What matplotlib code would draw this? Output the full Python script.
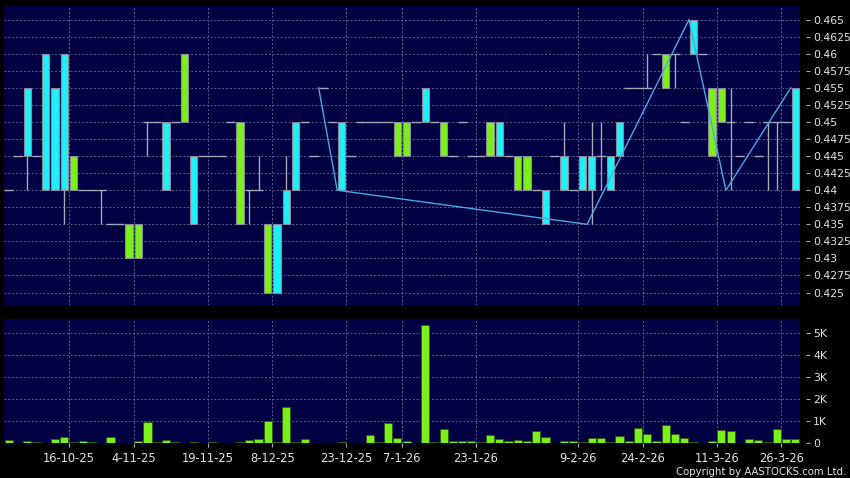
import numpy as np
import matplotlib.pyplot as plt
from matplotlib.ticker import FixedLocator, FuncFormatter

# ---------- data (one entry per trading slot) ----------
opens = [0.44, 0.445, 0.445, 0.445, 0.44, 0.44, 0.44, 0.445, 0.44, 0.44,
         0.44, 0.435, 0.435, 0.435, 0.435, 0.45, 0.45, 0.44, 0.45, 0.46,
         0.435, 0.445, 0.445, 0.445, 0.45, 0.45, 0.44, 0.44, 0.435, 0.425,
         0.435, 0.44, 0.45, 0.445, 0.455, 0.45, 0.44, 0.445, 0.45, 0.45,
         0.45, 0.45, 0.45, 0.45, 0.45, 0.45, 0.45, 0.45, 0.445, 0.45,
         0.445, 0.445, 0.45, 0.445, 0.445, 0.445, 0.445, 0.44, 0.435, 0.445,
         0.44, 0.44, 0.44, 0.44, 0.445, 0.44, 0.445, 0.455, 0.455, 0.455,
         0.46, 0.46, 0.46, 0.45, 0.46, 0.46, 0.455, 0.455, 0.45, 0.445,
         0.45, 0.445, 0.45, 0.45, 0.45, 0.44]
closes = [0.44, 0.445, 0.455, 0.445, 0.46, 0.455, 0.46, 0.44, 0.44, 0.44,
          0.44, 0.435, 0.435, 0.43, 0.43, 0.45, 0.45, 0.45, 0.45, 0.45,
          0.445, 0.445, 0.445, 0.445, 0.45, 0.435, 0.44, 0.44, 0.425, 0.435,
          0.44, 0.45, 0.45, 0.445, 0.455, 0.45, 0.45, 0.445, 0.45, 0.45,
          0.45, 0.45, 0.445, 0.445, 0.45, 0.455, 0.45, 0.445, 0.445, 0.45,
          0.445, 0.445, 0.445, 0.45, 0.445, 0.44, 0.44, 0.44, 0.44, 0.445,
          0.445, 0.44, 0.445, 0.445, 0.445, 0.445, 0.45, 0.455, 0.455, 0.455,
          0.46, 0.455, 0.46, 0.45, 0.465, 0.46, 0.445, 0.45, 0.45, 0.445,
          0.45, 0.445, 0.45, 0.45, 0.45, 0.455]
highs = [0.44, 0.445, 0.455, 0.445, 0.46, 0.455, 0.46, 0.445, 0.44, 0.44,
         0.44, 0.435, 0.435, 0.435, 0.435, 0.45, 0.45, 0.45, 0.45, 0.46,
         0.445, 0.445, 0.445, 0.445, 0.45, 0.45, 0.44, 0.445, 0.435, 0.435,
         0.445, 0.45, 0.45, 0.445, 0.455, 0.45, 0.45, 0.445, 0.45, 0.45,
         0.45, 0.45, 0.45, 0.45, 0.45, 0.455, 0.45, 0.45, 0.445, 0.45,
         0.445, 0.445, 0.45, 0.45, 0.445, 0.445, 0.445, 0.44, 0.44, 0.445,
         0.45, 0.44, 0.445, 0.45, 0.45, 0.445, 0.45, 0.455, 0.455, 0.46,
         0.46, 0.46, 0.46, 0.45, 0.465, 0.46, 0.455, 0.455, 0.455, 0.445,
         0.45, 0.445, 0.45, 0.45, 0.45, 0.455]
lows = [0.44, 0.445, 0.44, 0.445, 0.44, 0.44, 0.435, 0.44, 0.44, 0.44,
        0.435, 0.435, 0.435, 0.43, 0.43, 0.445, 0.45, 0.44, 0.45, 0.45,
        0.435, 0.445, 0.445, 0.445, 0.45, 0.435, 0.435, 0.44, 0.425, 0.425,
        0.435, 0.44, 0.45, 0.445, 0.455, 0.45, 0.44, 0.445, 0.45, 0.45,
        0.45, 0.45, 0.445, 0.445, 0.45, 0.45, 0.45, 0.445, 0.445, 0.45,
        0.445, 0.445, 0.445, 0.445, 0.445, 0.44, 0.44, 0.44, 0.435, 0.445,
        0.44, 0.44, 0.44, 0.435, 0.44, 0.44, 0.445, 0.455, 0.455, 0.455,
        0.46, 0.455, 0.455, 0.45, 0.46, 0.46, 0.445, 0.45, 0.44, 0.445,
        0.45, 0.445, 0.44, 0.44, 0.45, 0.44]
volumes = [150, 0, 110, 50, 0, 200, 300, 60, 90, 40,
           30, 290, 0, 0, 120, 980, 60, 150, 60, 10,
           40, 0, 40, 0, 0, 50, 150, 200, 1030, 50,
           1670, 80, 200, 0, 0, 20, 60, 0, 0, 380,
           80, 900, 230, 110, 0, 5380, 60, 640, 90, 90,
           120, 60, 390, 200, 120, 150, 110, 580, 300, 0,
           90, 110, 40, 260, 250, 40, 330, 90, 680, 440,
           90, 820, 420, 240, 40, 0, 120, 600, 570, 0,
           210, 170, 60, 640, 180, 180]

# zigzag overlay (slot, price)
zz_slots = [34, 36, 63, 74, 78, 85]
zz_prices = [0.455, 0.44, 0.435, 0.465, 0.44, 0.455]

date_slots = [6, 13, 21, 28, 36, 42, 50, 61, 68, 76, 83]
date_labels = ["16-10-25", "4-11-25", "19-11-25", "8-12-25", "23-12-25", "7-1-26",
               "23-1-26", "9-2-26", "24-2-26", "11-3-26", "26-3-26"]

price_ticks = [0.425 + 0.0025 * k for k in range(17)]
vol_ticks = [0, 1000, 2000, 3000, 4000, 5000]

# ---------- style ----------
NAVY = "#000042"
CYAN = "#22EEF5"
GREEN = "#7CF01A"
GREY = "#A8A8B8"
GRID = "#5E5E90"
TXT = "#E4E4E4"

fig = plt.figure(figsize=(8.5, 4.78), dpi=100, facecolor="black")
W, H = 850, 478
ax = fig.add_axes([4 / W, (H - 305) / H, 796 / W, 299 / H], facecolor=NAVY)
axv = fig.add_axes([4 / W, (H - 443.3) / H, 796 / W, 124 / H], facecolor=NAVY)

n = len(opens)
x = np.arange(n)

for i in range(n):
    o, h, l, c = opens[i], highs[i], lows[i], closes[i]
    if h > l:
        ax.vlines(i, l, h, color=GREY, lw=1, zorder=2)
    if o == c:
        ax.hlines(c, i - 0.5, i + 0.5, color=GREY, lw=1, zorder=2)
    else:
        col = CYAN if c > o else GREEN
        ax.bar(i, abs(c - o), bottom=min(o, c), width=0.78, color=col,
               edgecolor="#8A8A9A", lw=0.8, zorder=3)

ax.plot(np.array(zz_slots) - 0.5, zz_prices, color="#4FA6E6", lw=1, zorder=4)

axv.bar(x, volumes, width=0.88, color=GREEN, edgecolor="#2E5A10", lw=0.6, zorder=3)

grid_x = [s + 0.5 for s in date_slots]
for a in (ax, axv):
    a.set_xlim(-0.5, 85.5)
    for sp in a.spines.values():
        sp.set_visible(False)
    a.spines["right"].set_position(("outward", 4))
    a.yaxis.tick_right()
    a.tick_params(axis="y", colors=GREY, length=3, width=0.8, labelcolor=TXT,
                  labelsize=7.8, pad=2.5)
    a.xaxis.set_major_locator(FixedLocator(grid_x))
    a.grid(True, color=GRID, lw=0.7, ls=(0, (2, 2)), zorder=0)
    a.set_axisbelow(True)

ax.set_ylim(0.42317, 0.46701)
ax.yaxis.set_major_locator(FixedLocator(price_ticks))
ax.yaxis.set_major_formatter(FuncFormatter(lambda v, p: f"{v:g}"))
ax.tick_params(axis="x", length=0, labelbottom=False)

axv.set_ylim(0, 5636)
axv.yaxis.set_major_locator(FixedLocator(vol_ticks))
axv.yaxis.set_major_formatter(FuncFormatter(lambda v, p: "0" if v == 0 else f"{v / 1000:g}K"))
axv.set_xticklabels(date_labels)
axv.tick_params(axis="x", colors=GREY, length=3, width=0.8, labelcolor=TXT,
                labelsize=8.3, pad=3)

fig.text(0.995, 0.013, "Copyright by AASTOCKS.com Ltd.", color=TXT, fontsize=7.3,
         ha="right", va="center")

fig.savefig("out.png", dpi=100, facecolor="black")
